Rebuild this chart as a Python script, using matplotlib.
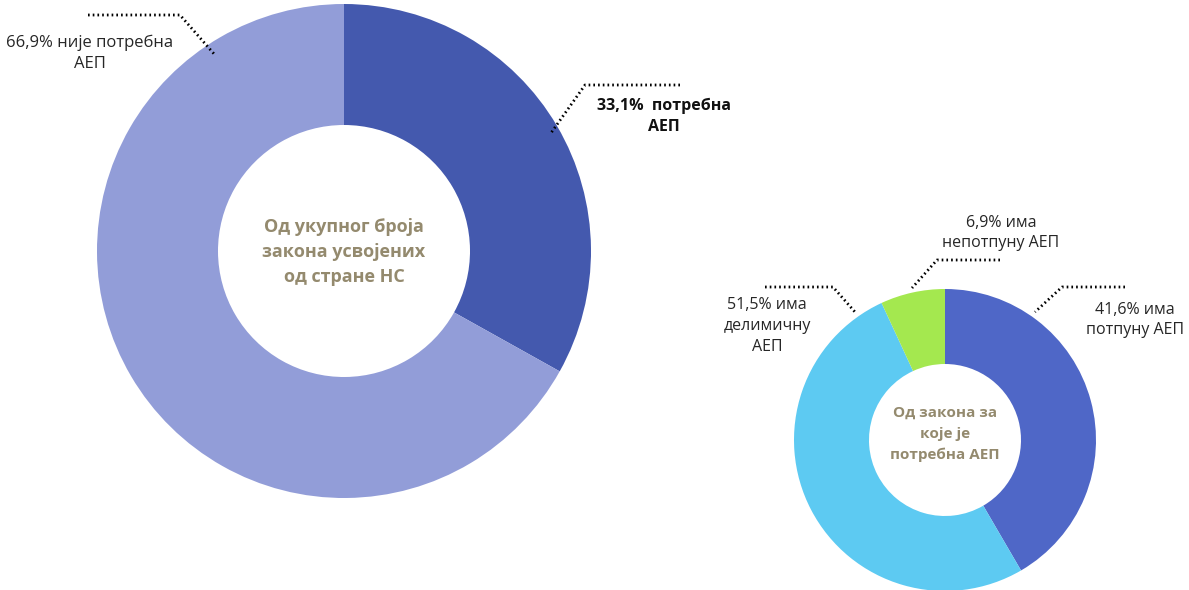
import matplotlib.pyplot as plt

plt.rcParams['font.family'] = ['Open Sans', 'DejaVu Sans']

# big donut: all laws adopted
big_values = [33.1, 66.9]
big_colors = ['#4459AE', '#929DD8']
big_labels = ['33,1%  потребна\nАЕП', '66,9% није потребна\nАЕП']
big_center = 'Од укупног броја\nзакона усвојених\nод стране НС'

# small donut: laws that need AEP
small_values = [41.6, 51.5, 6.9]
small_colors = ['#4F67C7', '#5DCAF2', '#A4E84F']
small_labels = ['41,6% има\nпотпуну АЕП', '51,5% има\nделимичну\nАЕП', '6,9% има\nнепотпуну АЕП']
small_center = 'Од закона за\nкоје је\nпотребна АЕП'

W, H = 1189, 590
fig = plt.figure(figsize=(W / 100, H / 100), dpi=100)
ax = fig.add_axes([0, 0, 1, 1])


def py(y):
    # pixel row -> data y
    return H - y


ax.pie(big_values, colors=big_colors, startangle=90, counterclock=False,
       center=(344, py(251)), radius=247,
       wedgeprops=dict(width=121, linewidth=0))
ax.pie(small_values, colors=small_colors, startangle=90, counterclock=False,
       center=(945, py(440)), radius=151,
       wedgeprops=dict(width=75, linewidth=0))

# pie resets the limits, so set them afterwards
ax.set_xlim(0, W)
ax.set_ylim(0, H)
ax.set_aspect('equal')
ax.axis('off')

center_color = '#948A6E'
ax.text(344, py(252), big_center, ha='center', va='center', fontsize=13,
        fontweight='bold', color=center_color, linespacing=1.5)
ax.text(945, py(434), small_center, ha='center', va='center', fontsize=11,
        fontweight='bold', color=center_color, linespacing=1.6)

# dotted leader lines (pixel coords)
leaders = [
    [(88, 15), (180, 15), (215, 55)],
    [(680, 85), (585, 85), (551, 133)],
    [(1000, 260), (937, 260), (912, 288)],
    [(765, 287), (833, 287), (855, 312)],
    [(1125, 287), (1062, 287), (1035, 312)],
]
for pts in leaders:
    xs = [p[0] for p in pts]
    ys = [py(p[1]) for p in pts]
    ax.plot(xs, ys, color='black', linewidth=2, linestyle=(0, (0.6, 1.1)))

txt_color = '#262626'
ax.text(90, py(53), big_labels[1], ha='center', va='center', fontsize=12,
        color=txt_color, linespacing=1.4)
ax.text(664, py(116), big_labels[0], ha='center', va='center', fontsize=11.5,
        fontweight='bold', color='#111111', linespacing=1.4)
ax.text(1135, py(320), small_labels[0], ha='center', va='center', fontsize=11.5,
        color=txt_color, linespacing=1.4)
ax.text(767, py(326), small_labels[1], ha='center', va='center', fontsize=11.5,
        color=txt_color, linespacing=1.4)
ax.text(1001, py(233), small_labels[2], ha='center', va='center', fontsize=11.5,
        color=txt_color, linespacing=1.4)

fig.savefig('out.png', dpi=100)
